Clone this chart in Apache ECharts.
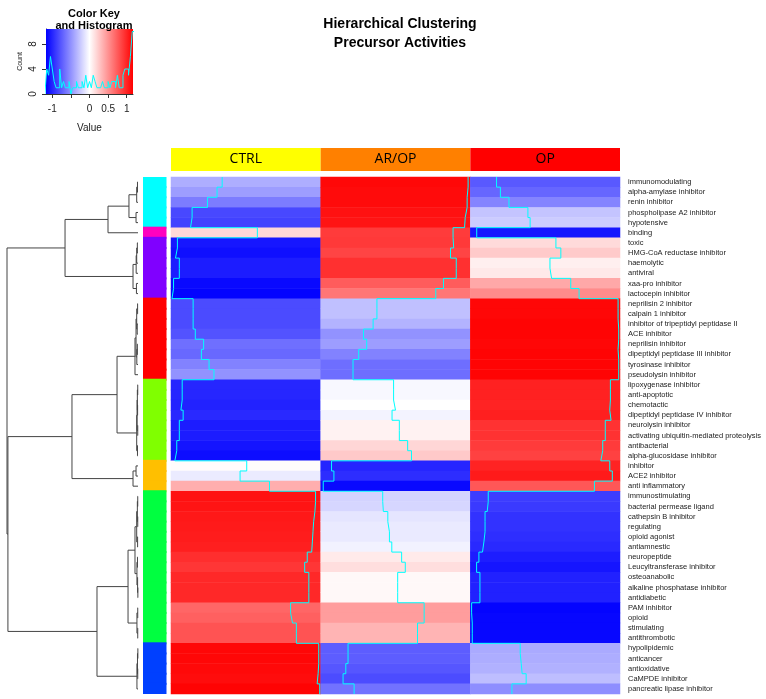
<!DOCTYPE html>
<html>
<head>
<meta charset="utf-8">
<title>Hierarchical Clustering - Precursor Activities</title>
<script src="https://cdn.jsdelivr.net/npm/echarts@6/dist/echarts.min.js"></script>
<style>
  html, body { margin: 0; padding: 0; background: #fff; }
  #chart { width: 766px; height: 699px; }
</style>
</head>
<body>
<div id="chart"></div>
<script>
// columns of the heatmap
const columns = ["CTRL", "AR/OP", "OP"];
const columnColors = ["#ffff00", "#ff8000", "#ff0000"];

// rows, top to bottom (dendrogram order)
const activities = [
  "immunomodulating", "alpha-amylase inhibitor", "renin inhibitor", "phospholipase A2 inhibitor",
  "hypotensive", "binding", "toxic", "HMG-CoA reductase inhibitor", "haemolytic", "antiviral",
  "xaa-pro inhibitor", "lactocepin inhibitor", "neprilisin 2 inhibitor", "calpain 1 inhibitor",
  "inhibitor of tripeptidyl peptidase II", "ACE inhibitor", "neprilisin inhibitor",
  "dipeptidyl peptidase III inhibitor", "tyrosinase inhibitor", "pseudolysin inhibitor",
  "lipoxygenase inhibitor", "anti-apoptotic", "chemotactic", "dipeptidyl peptidase IV inhibitor",
  "neurolysin inhibitor", "activating ubiquitin-mediated proteolysis", "antibacterial",
  "alpha-glucosidase inhibitor", "inhibitor", "ACE2 inhibitor", "anti inflammatory",
  "immunostimulating", "bacterial permease ligand", "cathepsin B inhibitor", "regulating",
  "opioid agonist", "antiamnestic", "neuropeptide", "Leucyltransferase inhibitor", "osteoanabolic",
  "alkaline phosphatase inhibitor", "antidiabetic", "PAM inhibitor", "opioid", "stimulating",
  "antithrombotic", "hypolipidemic", "anticancer", "antioxidative", "CaMPDE inhibitor",
  "pancreatic lipase inhibitor"
];

// row-scaled values (z-scores)
const ctrl = [
  -0.37, -0.45, -0.60, -0.84, -0.865, 0.18, -1.07, -1.10, -1.04, -1.04, -1.13, -1.155,
  -0.824, -0.824, -0.824, -0.79, -0.66, -0.695, -0.575, -0.498,
  -0.995, -0.995, -1.015, -0.98, -1.04, -1.04, -1.08, -1.11,
  0.014, -0.09, 0.37,
  1.09, 1.08, 1.06, 1.05, 1.04, 1.03, 0.96, 0.92, 0.985, 0.985, 0.985, 0.70, 0.73, 0.79, 0.79,
  1.14, 1.14, 1.13, 1.115, 1.155
];
const arop = [
  1.135, 1.12, 1.12, 1.09, 1.08, 0.90, 0.91, 0.86, 0.95, 0.95, 0.75, 0.63,
  -0.29, -0.29, -0.35, -0.50, -0.45, -0.575, -0.664, -0.664,
  -0.03, -0.03, 0.0, -0.054, 0.06, 0.06, 0.19, 0.25,
  -1.0, -0.963, -1.13,
  -0.2, -0.19, -0.12, -0.095, -0.095, -0.058, 0.096, 0.153, 0.034, 0.034, 0.034, 0.448, 0.448, 0.344, 0.344,
  -0.742, -0.742, -0.777, -0.82, -0.647
];
const op = [
  -0.76, -0.70, -0.566, -0.27, -0.235, -1.07, 0.168, 0.245, 0.075, 0.10, 0.40, 0.53,
  1.14, 1.14, 1.15, 1.15, 1.14, 1.15, 1.15, 1.15,
  1.02, 1.02, 1.01, 1.03, 0.94, 0.94, 0.90, 0.87,
  1.01, 1.05, 0.77,
  -0.89, -0.906, -0.94, -0.94, -0.958, -0.98, -1.036, -1.072, -1.02, -1.02, -1.02, -1.15, -1.14, -1.14, -1.14,
  -0.39, -0.374, -0.36, -0.297, -0.52
];

// row side colour groups
const clusterColors = ["#00ffff", "#ff00bf", "#8000ff", "#ff0000", "#80ff00", "#ffbf00", "#00ff40", "#0040ff"];
const rowCluster = [
  0, 0, 0, 0, 0, 1, 2, 2, 2, 2, 2, 2,
  3, 3, 3, 3, 3, 3, 3, 3,
  4, 4, 4, 4, 4, 4, 4, 4,
  5, 5, 5,
  6, 6, 6, 6, 6, 6, 6, 6, 6, 6, 6, 6, 6, 6, 6,
  7, 7, 7, 7, 7
];

// hclust-like merges: [left, right, height]; negative = row (1-based), positive = earlier merge
const merges = [
  [-1, -2, 0.04], [1, -3, 0.1], [-4, -5, 0.15], [2, 3, 0.69], [4, -6, 2.29],
  [-7, -8, 0.05], [6, -9, 0.1], [7, -10, 0.14], [-11, -12, 0.12], [8, 9, 0.38],
  [5, 10, 5.57],
  [-13, -14, 0.03], [-15, -16, 0.06], [12, 13, 0.1], [-17, -18, 0.05], [15, -19, 0.09],
  [14, 16, 0.15], [17, -20, 0.23],
  [-21, -22, 0.02], [-23, -24, 0.03], [19, 20, 0.05], [-25, -26, 0.02], [21, 22, 0.07],
  [-27, -28, 0.04], [23, 24, 0.1],
  [18, 25, 1.6],
  [-29, -30, 0.15], [27, -31, 0.38],
  [26, 28, 5.04],
  [-32, -33, 0.02], [-34, -35, 0.02], [30, 31, 0.05], [-36, -37, 0.03], [32, 33, 0.1],
  [-38, -39, 0.04], [-41, -42, 0.01], [-40, 36, 0.03], [35, 37, 0.08], [34, 38, 0.23],
  [-43, -44, 0.02], [-45, -46, 0.02], [40, 41, 0.08], [39, 42, 0.76],
  [-47, -48, 0.01], [-49, -50, 0.02], [44, 45, 0.04], [46, -51, 0.08],
  [43, 47, 3.13],
  [29, 48, 9.93],
  [11, 49, 10]
];

// colour key histogram
const histStart = -1.2;
const histStep = 0.05;
const histCounts = [
  0, 4, 3, 6, 4, 2, 1, 1, 4, 1, 2, 1, 1, 2, 0, 1, 1, 2, 1, 1, 2, 1, 3, 1,
  2, 1, 3, 2, 1, 1, 1, 2, 1, 1, 2, 1, 2, 2, 1, 3, 1, 1, 3, 4, 4, 3, 6, 10
];

const vMin = -1.17;
const vMax = 1.17;

const valueCols = [ctrl, arop, op];
const heatData = [];
valueCols.forEach((vals, c) => vals.forEach((v, r) => heatData.push([c, r, v])));

// trace lines (heatmap.2 style)
const traceSeries = valueCols.map((vals, c) => {
  const pts = [];
  vals.forEach((v, r) => {
    const x = c + (v - vMin) / (vMax - vMin);
    pts.push([x, r], [x, r + 1]);
  });
  return {
    type: "line",
    xAxisIndex: 2,
    yAxisIndex: 2,
    data: pts,
    symbol: "none",
    clip: false,
    silent: true,
    z: 5,
    lineStyle: { color: "#00ffff", width: 1 },
  };
});

// dendrogram segments
const nodeY = [];
const nodeH = [];
const pos = (ref) => (ref < 0 ? { y: -ref - 0.5, h: 0 } : { y: nodeY[ref - 1], h: nodeH[ref - 1] });
const dendroLines = merges.map(([a, b, h], k) => {
  const pa = pos(a);
  const pb = pos(b);
  nodeY[k] = (pa.y + pb.y) / 2;
  nodeH[k] = h;
  return { coords: [[pa.h, pa.y], [h, pa.y], [h, pb.y], [pb.h, pb.y]] };
});

const histData = histCounts.map((c, i) => [histStart + i * histStep, c]);
histData.push([histStart + histCounts.length * histStep, histCounts[histCounts.length - 1]]);

const font = "Liberation Sans";
const hidden = { show: false };

const chart = echarts.init(document.getElementById("chart"));

const option = {
  animation: false,
  textStyle: { fontFamily: font },
  title: [
    {
      text: "Hierarchical Clustering\nPrecursor Activities",
      left: 395,
      top: 10,
      textAlign: "center",
      textStyle: { fontSize: 14, fontWeight: "bold", color: "#000", lineHeight: 19, fontFamily: font },
    },
    {
      text: "Color Key\nand Histogram",
      left: 89,
      top: 3,
      textAlign: "center",
      textStyle: { fontSize: 11, fontWeight: "bold", color: "#000", lineHeight: 12, fontFamily: font },
    },
  ],
  visualMap: {
    type: "continuous",
    show: false,
    seriesIndex: 1,
    min: vMin,
    max: vMax,
    inRange: { color: ["#0000ff", "#ffffff", "#ff0000"] },
  },
  grid: [
    { left: 46, top: 29, width: 87, height: 65 },
    { left: 171, top: 177, width: 449, height: 517 },
    { left: 171, top: 177, width: 449, height: 517 },
    { left: 171, top: 148, width: 449, height: 23 },
    { left: 143, top: 177, width: 23.5, height: 517 },
    { left: 7, top: 177, width: 131, height: 517 },
  ],
  xAxis: [
    {
      gridIndex: 0,
      type: "value",
      min: vMin,
      max: vMax,
      splitLine: hidden,
      axisLine: { show: true, onZero: false, lineStyle: { color: "#333" } },
      axisTick: { show: true, length: 4, customValues: [-1, -0.5, 0, 0.5, 1], lineStyle: { color: "#333" } },
      axisLabel: { customValues: [-1, 0, 0.5, 1], fontSize: 10, color: "#222", margin: 10 },
      name: "Value",
      nameLocation: "middle",
      nameGap: 29,
      nameTextStyle: { fontSize: 10, color: "#222" },
    },
    { gridIndex: 1, type: "category", data: columns, show: false },
    { gridIndex: 2, type: "value", min: 0, max: 3, show: false },
    { gridIndex: 3, type: "category", data: columns, show: false },
    { gridIndex: 4, type: "value", min: 0, max: 1, show: false },
    { gridIndex: 5, type: "value", min: 0, max: 10, inverse: true, show: false },
  ],
  yAxis: [
    {
      gridIndex: 0,
      type: "value",
      min: 0,
      max: 10.4,
      splitLine: hidden,
      axisLine: { show: true, onZero: false, lineStyle: { color: "#333" } },
      axisTick: { show: true, length: 4, customValues: [0, 4, 8], lineStyle: { color: "#333" } },
      axisLabel: { customValues: [0, 4, 8], rotate: 90, fontSize: 10, color: "#222", margin: 8 },
      name: "Count",
      nameLocation: "middle",
      nameGap: 22,
      nameTextStyle: { fontSize: 7, color: "#222" },
    },
    {
      gridIndex: 1,
      type: "category",
      data: activities,
      inverse: true,
      position: "right",
      axisLine: hidden,
      axisTick: hidden,
      splitLine: hidden,
      axisLabel: { interval: 0, fontSize: 7.5, color: "#222", margin: 8, fontFamily: font },
    },
    { gridIndex: 2, type: "value", min: 0, max: 51, inverse: true, show: false },
    { gridIndex: 3, type: "value", min: 0, max: 1, show: false },
    { gridIndex: 4, type: "category", data: activities, inverse: true, show: false },
    { gridIndex: 5, type: "value", min: 0, max: 51, inverse: true, show: false },
  ],
  series: [
    {
      type: "line",
      xAxisIndex: 0,
      yAxisIndex: 0,
      data: histData,
      step: "end",
      symbol: "none",
      silent: true,
      lineStyle: { color: "#00ffff", width: 1 },
      markArea: {
        silent: true,
        itemStyle: {
          color: new echarts.graphic.LinearGradient(0, 0, 1, 0, [
            { offset: 0, color: "#0000ff" },
            { offset: 0.5, color: "#ffffff" },
            { offset: 1, color: "#ff0000" },
          ]),
        },
        data: [[{ xAxis: vMin, yAxis: 0 }, { xAxis: vMax, yAxis: 10.4 }]],
      },
    },
    {
      type: "heatmap",
      xAxisIndex: 1,
      yAxisIndex: 1,
      data: heatData,
      progressive: 0,
      silent: true,
      itemStyle: { borderWidth: 0 },
    },
    ...traceSeries,
    {
      type: "bar",
      xAxisIndex: 3,
      yAxisIndex: 3,
      barWidth: "100%",
      silent: true,
      data: columns.map((c, i) => ({ value: 1, itemStyle: { color: columnColors[i] } })),
      label: {
        show: true,
        position: "inside",
        formatter: "{b}",
        color: "#000",
        fontSize: 14,
        fontFamily: "Open Sans",
      },
    },
    {
      type: "bar",
      xAxisIndex: 4,
      yAxisIndex: 4,
      barWidth: "120%",
      silent: true,
      data: rowCluster.map((c) => ({ value: 1, itemStyle: { color: clusterColors[c] } })),
    },
    {
      type: "lines",
      coordinateSystem: "cartesian2d",
      xAxisIndex: 5,
      yAxisIndex: 5,
      polyline: true,
      silent: true,
      data: dendroLines,
      lineStyle: { color: "#444", width: 1, opacity: 1, curveness: 0 },
    },
  ],
};

chart.setOption(option);
window.addEventListener("resize", () => {
  chart.resize();
});
</script>
</body>
</html>
